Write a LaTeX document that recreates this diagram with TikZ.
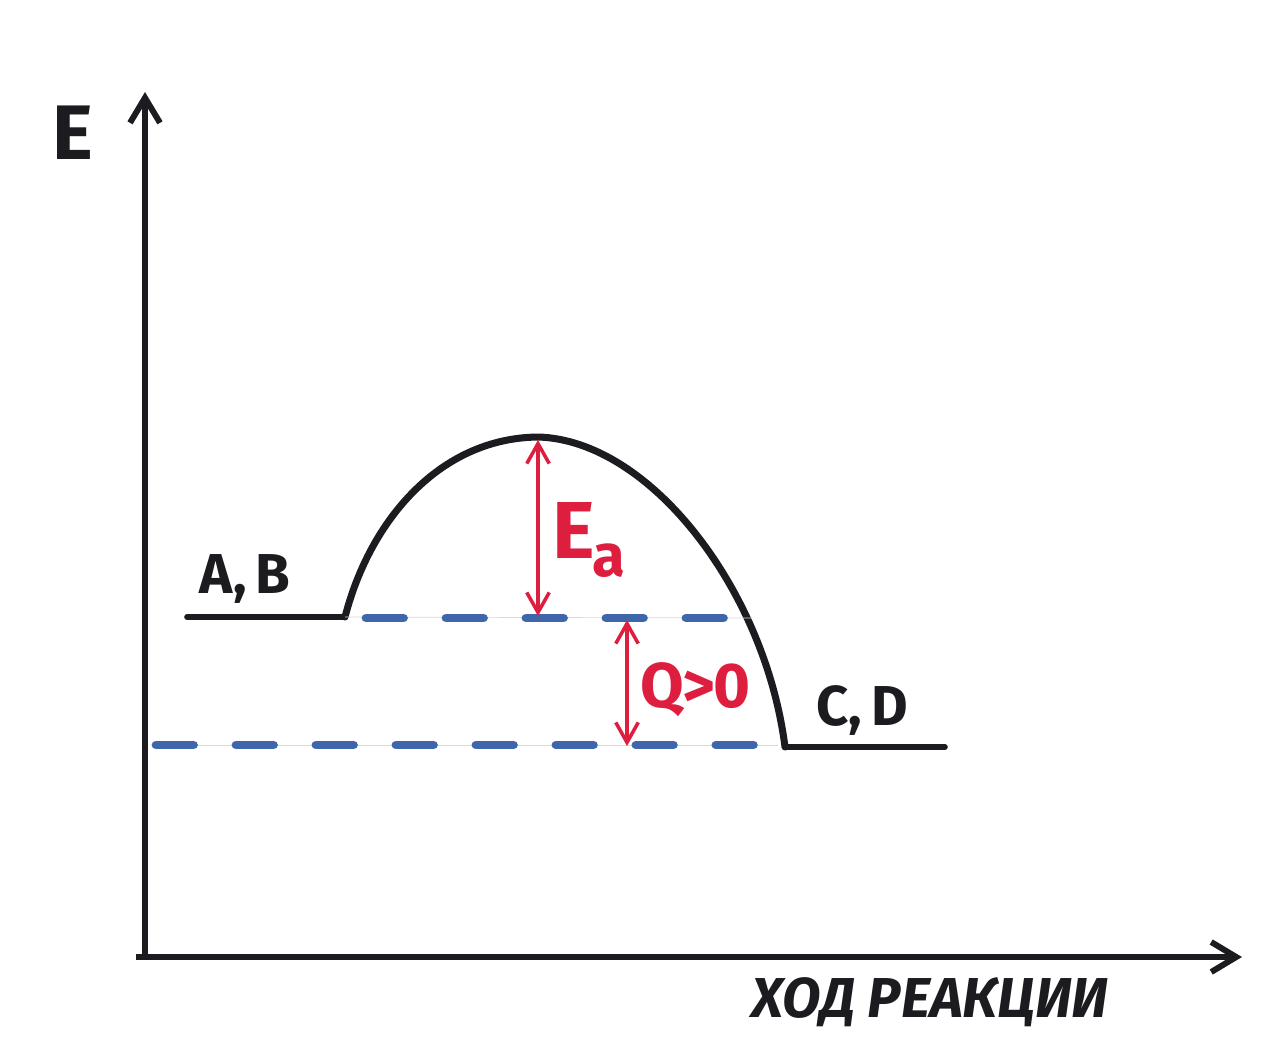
\documentclass[tikz,border=0pt]{standalone}
\usepackage{fontspec}
\setmainfont{Fira Sans}
\usetikzlibrary{positioning,arrows.meta}
\definecolor{inkred}{RGB}{222,30,62}
\definecolor{inkblue}{RGB}{62,102,168}
\definecolor{inkblack}{RGB}{28,28,32}

\begin{document}
\begin{tikzpicture}[x=0.02cm, y=-0.02cm,
  axis/.style={inkblack, line width=3.4pt, -{Straight Barb[length=5mm, width=6mm, line width=3.4pt]}},
  level/.style={inkblack, line width=3.2pt, line cap=round},
  curve/.style={inkblack, line width=4pt, line cap=round},
  guide/.style={gray!30, line width=0.4pt},
  dashlvl/.style={inkblue, line width=5pt, line cap=round, dash pattern=on 0.75cm off 0.85cm},
  gap/.style={inkred, line width=2pt, {Straight Barb[length=4mm, width=4.5mm, line width=2pt]}-{Straight Barb[length=4mm, width=4.5mm, line width=2pt]}},
  lbl/.style={inkblack, font=\bfseries\fontsize{32}{36}\selectfont},
  redlbl/.style={inkred, font=\bfseries\fontsize{36}{40}\selectfont}
]
\useasboundingbox (0,0) rectangle (1287,1063);
\fill[white] (0,0) rectangle (1287,1063);

% axes
\coordinate (origin) at (145,957);
\coordinate (ytip) at (145,92);
\coordinate (xtip) at (1242,957);
\draw[axis] (origin) -- (ytip);
\draw[axis] ([xshift=-5]origin) -- (xtip);
\node[lbl, font=\bfseries\fontsize{44}{48}\selectfont] (elabel) at (73,133) {E};
\node[lbl, font=\bfseries\itshape\fontsize{32}{36}\selectfont] (xlabel) at (930,1002) {ХОД РЕАКЦИИ};

% levels
\coordinate (abL) at (187,617);
\coordinate (abR) at (345,617);
\coordinate (peak) at (538,437);
\coordinate (cdL) at (785,747);
\coordinate (cdR) at (945,747);
\node[lbl] (ab) at (245,579) {A,\,B};
\node[lbl] (cd) at (862,710) {C,\,D};
\draw[level] (abL) -- (abR);
\draw[level] (cdL) -- (cdR);
\draw[curve] (abR) .. controls (370,520) and (440,438) .. (peak)
  .. controls (650,440) and (765,590) .. (cdL);

% dashed guides
\coordinate (upL) at (366,618);
\coordinate (upR) at (752,618);
\coordinate (loL) at (156,745);
\coordinate (loR) at (778,745);
\draw[guide] (abR) -- (upR);
\draw[guide] (loL) -- (loR);
\draw[dashlvl] (upL) -- (upR);
\draw[dashlvl] (loL) -- (loR);

% energy gaps
\coordinate (eaTop) at (538,440);
\coordinate (eaBot) at (538,616);
\coordinate (qTop) at (627,620);
\coordinate (qBot) at (627,746);
\draw[gap] (eaTop) -- (eaBot);
\draw[gap] (qTop) -- (qBot);
\node[redlbl, anchor=west, font=\bfseries\fontsize{46}{50}\selectfont] (ea) at (546,540)
  {E\kern-1pt\raisebox{-10pt}{\fontsize{34}{36}\selectfont a}};
\node[redlbl, anchor=west] (q) at (634,690) {Q\kern-1pt>\kern-1pt0};
\end{tikzpicture}
\end{document}
